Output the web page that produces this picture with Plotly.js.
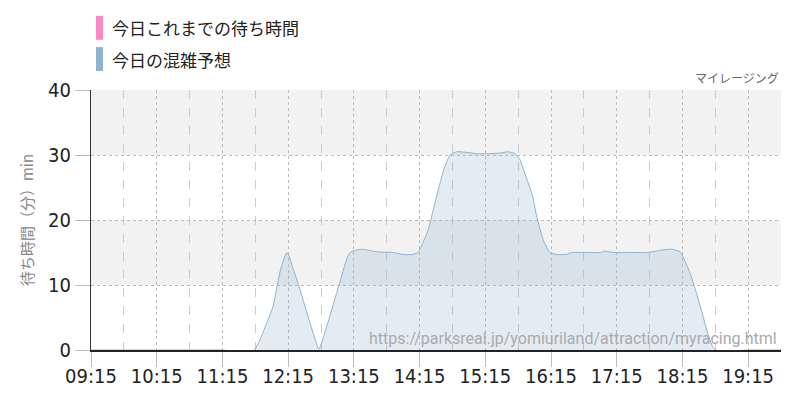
<!DOCTYPE html>
<html lang="ja">
<head>
<meta charset="utf-8">
<script src="https://cdn.plot.ly/plotly-3.0.1.min.js"></script>
<style>
  html, body { margin: 0; padding: 0; background: #fff; }
  #chart { width: 800px; height: 400px; }
</style>
</head>
<body>
<div id="chart"></div>
<script>
// ── Dados ─────────────────────────────────────────────────
const DAY = '2024-05-01';

// 今日これまでの待ち時間 (まだデータなし)
const todayTimes = [];
const todayWaits = [];

// 今日の混雑予想
const forecastTimes = [
  '09:15', '09:30', '09:45', '10:00', '10:15', '10:30', '10:45', '11:00',
  '11:15', '11:25', '11:35', '11:40', '11:44', '11:49', '11:55', '12:01',
  '12:08', '12:14', '12:20', '12:26', '12:35', '12:40', '12:43', '12:50',
  '13:02', '13:11', '13:18', '13:23', '13:36', '13:51', '14:00', '14:09',
  '14:14', '14:18', '14:23', '14:26', '14:32', '14:38', '14:43', '14:49',
  '14:58', '15:08', '15:18', '15:28', '15:36', '15:42', '15:47', '15:51',
  '15:58', '16:02', '16:08', '16:14', '16:20', '16:29', '16:34', '17:00',
  '17:04', '17:12', '17:27', '17:43', '17:57', '18:05', '18:13', '18:17',
  '18:22', '18:27', '18:33', '18:38', '18:43', '18:49', '19:01', '19:14',
  '19:30', '19:45',
];
const forecastWaits = [
  0, 0, 0, 0, 0, 0, 0, 0,
  0, -0.2, -0.4, -0.3, 0, 1.5, 4, 6.6,
  12.3, 15.0, 12.3, 9.2, 4.1, 1.5, 0.1, 3.5,
  10.3, 14.9, 15.4, 15.5, 15.1, 15.0, 14.7, 14.7,
  15.1, 16.5, 18.5, 20.5, 24.6, 28.2, 30.0, 30.5,
  30.4, 30.2, 30.2, 30.3, 30.5, 30.2, 29.2, 27.2,
  23.8, 20.5, 16.9, 15.0, 14.7, 14.7, 15.0, 15.0,
  15.2, 15.0, 15.0, 15.0, 15.4, 15.5, 15.1, 13.8,
  11.8, 9.2, 5.7, 2.6, 0.4, -0.3, -0.2, 0,
  0, 0,
];

const legendLabels = ['今日これまでの待ち時間', '今日の混雑予想'];
const legendColors = ['#ff88c8', '#8fb3d0'];

// faixas cinza de fundo (min, max)
const yBands = [[10, 20], [30, 40]];

// ── Tema ──────────────────────────────────────────────────
const NARROW = "'Liberation Sans Narrow', 'DejaVu Sans Condensed', 'Roboto', sans-serif";
const JP     = "'Noto Sans CJK JP', 'Noto Sans', sans-serif";

const stamp = (t) => `${DAY} ${t}`;

function buildTraces() {
  return [
    {
      x: todayTimes.map(stamp), y: todayWaits,
      name: legendLabels[0],
      type: 'scatter', mode: 'lines',
      line: { color: legendColors[0], width: 1.5 },
      showlegend: false,
    },
    {
      x: forecastTimes.map(stamp), y: forecastWaits,
      name: legendLabels[1],
      type: 'scatter', mode: 'lines',
      line: { color: '#8fb3d0', width: 1, shape: 'spline', smoothing: 0.6 },
      fill: 'tozeroy',
      fillcolor: 'rgba(143,179,208,0.25)',
      showlegend: false,
      hoverinfo: 'skip',
    },
  ];
}

// legenda desenhada à mão (retângulos altos como no original)
function buildLegend() {
  const shapes = [];
  const annotations = [];
  legendLabels.forEach((label, i) => {
    const top = 1.285 - i * 0.12;
    shapes.push({
      type: 'rect', xref: 'paper', yref: 'paper',
      x0: 0.0072, x1: 0.0174, y0: top - 0.092, y1: top,
      fillcolor: legendColors[i], line: { width: 0 },
    });
    annotations.push({
      xref: 'paper', yref: 'paper', x: 0.028, y: top - 0.046,
      xanchor: 'left', yanchor: 'middle', showarrow: false,
      text: label, font: { family: JP, size: 17, color: '#222' },
    });
  });
  return { shapes, annotations };
}

function buildLayout() {
  const legend = buildLegend();

  const bands = yBands.map(([y0, y1]) => ({
    type: 'rect', xref: 'paper', yref: 'y', layer: 'below',
    x0: 0, x1: 1, y0, y1,
    fillcolor: '#f2f2f2', line: { width: 0 },
  }));

  const tickfont = { family: NARROW, size: 20, color: '#222' };

  return {
    width: 800, height: 400,
    paper_bgcolor: '#fff', plot_bgcolor: '#fff',
    margin: { t: 90, b: 50, l: 91, r: 19 },
    showlegend: false,
    xaxis: {
      type: 'date',
      range: [stamp('09:15'), stamp('19:45')],
      tick0: stamp('09:15'), dtick: 3600000, tickformat: '%H:%M',
      ticks: 'outside', ticklen: 15, tickcolor: '#bbb', tickwidth: 1,
      ticklabelstandoff: -8,
      tickfont,
      showgrid: true, gridcolor: '#bbb', griddash: 'dot', gridwidth: 1,
      minor: {
        tick0: stamp('09:15'), dtick: 1800000,
        showgrid: true, gridcolor: '#ccc', griddash: 'dash', gridwidth: 1,
      },
      showline: true, linecolor: '#222', linewidth: 1.5,
      zeroline: false, fixedrange: true,
    },
    yaxis: {
      range: [0, 40], dtick: 10,
      ticks: 'outside', ticklen: 15, tickcolor: '#bbb', tickwidth: 1,
      tickfont,
      showgrid: true, gridcolor: '#bbb', griddash: 'dot', gridwidth: 1,
      showline: true, linecolor: '#333', linewidth: 1,
      zeroline: false, fixedrange: true,
      title: {
        text: '待ち時間（分）min', standoff: 10,
        font: { family: JP, size: 15, color: '#888' },
      },
    },
    shapes: [...bands, ...legend.shapes],
    annotations: [
      ...legend.annotations,
      {
        xref: 'paper', yref: 'paper', x: 1, y: 1.048,
        xanchor: 'right', yanchor: 'middle', showarrow: false,
        text: 'マイレージング', font: { family: JP, size: 12, color: '#666' },
      },
      {
        xref: 'paper', yref: 'paper', x: 0.997, y: 0.046,
        xanchor: 'right', yanchor: 'middle', showarrow: false,
        text: 'https://parksreal.jp/yomiuriland/attraction/myracing.html',
        font: { family: 'Roboto, sans-serif', size: 16, color: '#aaa' },
      },
    ],
  };
}

Plotly.newPlot('chart', buildTraces(), buildLayout(), { displayModeBar: false, staticPlot: true });
</script>
</body>
</html>
